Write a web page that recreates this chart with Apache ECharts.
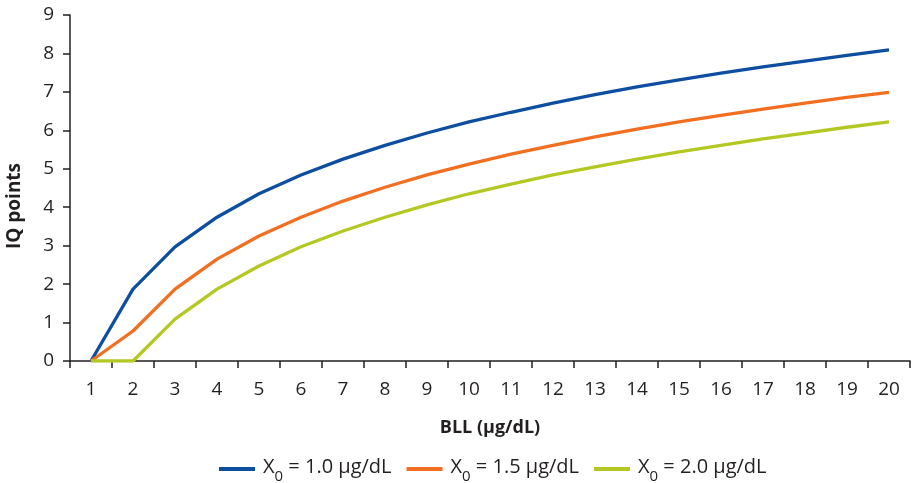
<!DOCTYPE html>
<html><head><meta charset="utf-8">
<script src="https://cdn.jsdelivr.net/npm/echarts@6/dist/echarts.min.js"></script>
<style>html,body{margin:0;padding:0;background:#fff}#c{width:912px;height:483px}</style>
</head><body><div id="c"></div>
<script>
const categories = ['1','2','3','4','5','6','7','8','9','10','11','12','13','14','15','16','17','18','19','20'];
const seriesNames = ['X0 = 1.0 µg/dL', 'X0 = 1.5 µg/dL', 'X0 = 2.0 µg/dL'];
const x0_10 = [0, 1.87, 2.97, 3.74, 4.35, 4.84, 5.25, 5.61, 5.93, 6.22, 6.47, 6.71, 6.93, 7.13, 7.31, 7.49, 7.65, 7.80, 7.95, 8.09];
const x0_15 = [0, 0.78, 1.87, 2.65, 3.25, 3.74, 4.16, 4.52, 4.84, 5.12, 5.38, 5.61, 5.83, 6.03, 6.22, 6.39, 6.55, 6.71, 6.86, 6.99];
const x0_20 = [0, 0, 1.09, 1.87, 2.47, 2.97, 3.38, 3.74, 4.06, 4.35, 4.60, 4.84, 5.05, 5.25, 5.44, 5.61, 5.78, 5.93, 6.08, 6.22];
const yTicks = [0, 1, 2, 3, 4, 5, 6, 7, 8, 9];

const FONT = '"Open Sans", sans-serif';
const colors = ['#0d4ea1', '#f26f21', '#b4c824'];
const chart = echarts.init(document.getElementById('c'));
const mk = (name, data, i) => ({
  name, type: 'line', data, symbol: 'none', smooth: false,
  lineStyle: { width: 3.3, color: colors[i] }, itemStyle: { color: colors[i] }
});
chart.setOption({
  animation: false,
  grid: { left: 70, right: 2, top: 15, bottom: 122, containLabel: false },
  xAxis: {
    type: 'category', data: categories, boundaryGap: true,
    axisLine: { lineStyle: { color: '#231f20', width: 1.5 } },
    axisTick: { show: true, length: 7, alignWithLabel: false, lineStyle: { color: '#231f20', width: 1.5 } },
    axisLabel: { color: '#231f20', fontFamily: FONT, fontSize: 19, margin: 19, interval: 0 },
    name: 'BLL (µg/dL)', nameLocation: 'middle', nameGap: 58,
    nameTextStyle: { color: '#231f20', fontFamily: FONT, fontSize: 18, fontWeight: 'bold' }
  },
  yAxis: {
    type: 'value', min: yTicks[0], max: yTicks[yTicks.length - 1], interval: 1,
    splitLine: { show: false },
    axisLine: { show: true, lineStyle: { color: '#231f20', width: 1.5 } },
    axisTick: { show: true, length: 7, lineStyle: { color: '#231f20', width: 1.5 } },
    axisLabel: { color: '#231f20', fontFamily: FONT, fontSize: 19, margin: 16 }
  },
  graphic: [{
    type: 'text', x: 15, y: 206, rotation: Math.PI / 2,
    style: { text: 'IQ points', fill: '#231f20', font: 'bold 19px ' + FONT, align: 'center', verticalAlign: 'middle' }
  }],
  legend: {
    left: 214, top: 452, itemWidth: 36, itemHeight: 4, itemGap: 15,
    icon: 'rect',
    data: seriesNames,
    formatter: function (n) { return '{a|X}{s|0}{a|' + n.slice(2) + '}'; },
    textStyle: {
      color: '#231f20', fontFamily: FONT, fontSize: 20, padding: [0, 0, 0, 3],
      rich: {
        a: { fontFamily: FONT, fontSize: 20, lineHeight: 24, verticalAlign: 'top', color: '#231f20' },
        s: { fontFamily: FONT, fontSize: 15, lineHeight: 15, verticalAlign: 'top', padding: [12, 0, 0, 0], color: '#231f20' }
      }
    }
  },
  series: [mk(seriesNames[0], x0_10, 0), mk(seriesNames[1], x0_15, 1), mk(seriesNames[2], x0_20, 2)]
});
</script></body></html>
